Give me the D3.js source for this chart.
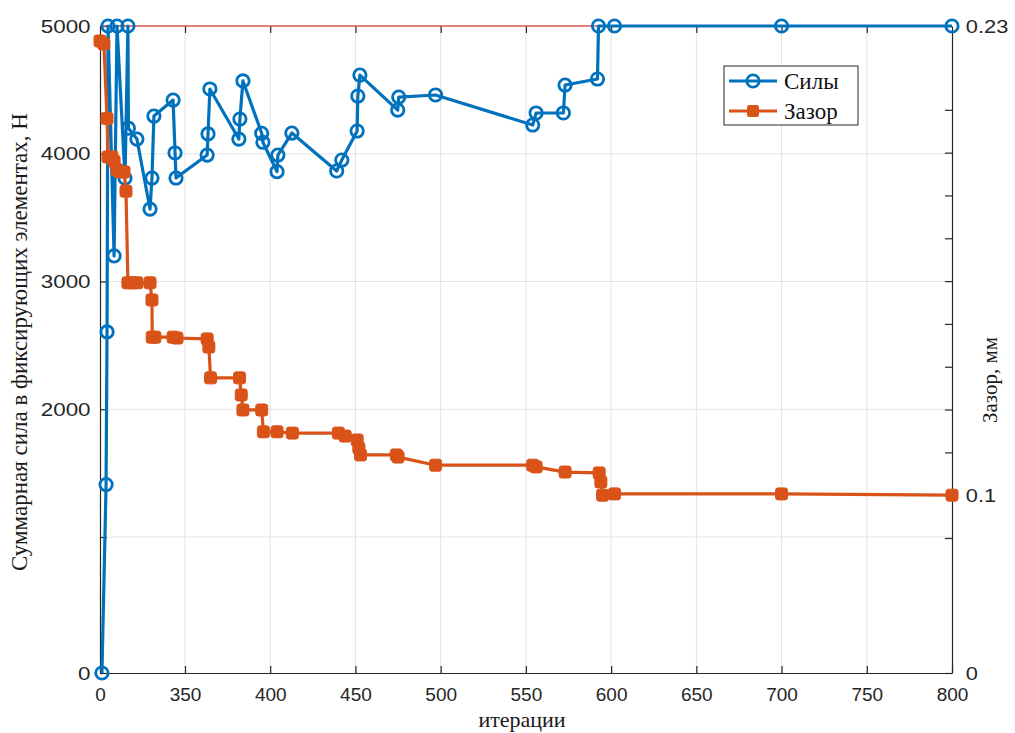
<!DOCTYPE html>
<html><head><meta charset="utf-8">
<script src="https://cdn.jsdelivr.net/npm/d3@7"></script>
<style>body{margin:0;background:#fff}</style>
</head><body>
<svg id="chart" width="1015" height="733"></svg>
<script>
// ---- data ----
const forceIter   = [8, 25, 29, 33, 58, 70, 103, 115, 117, 152, 206, 214, 222, 301, 309, 313, 363, 363.5, 364.6, 381.6, 382.2, 384, 395, 395.7, 404, 404.5, 412.7, 439, 442, 451, 451.4, 452.6, 474.8, 475.4, 497, 554, 556, 572, 573, 592, 592.6, 602, 700, 800];
const forceValues = [0, 1410, 2605, 5000, 3200, 5000, 3810, 5000, 4200, 4115, 3567, 3810, 4295, 4420, 4006, 3810, 3990, 4155, 4507, 4115, 4272, 4570, 4160, 4090, 3860, 3990, 4162, 3865, 3951, 4178, 4452, 4616, 4342, 4444, 4460, 4225, 4319, 4319, 4538, 4585, 5000, 5000, 5000, 5000];
const gapIter   = [0, 16, 29, 33, 49, 58, 70, 82, 99, 107, 115, 132, 152, 206, 214, 215, 226, 301, 317, 363, 364, 365, 382, 383, 384, 395, 396, 404, 413, 440, 444, 451, 452, 453, 474, 475, 497, 554, 556, 573, 593, 594, 595, 602, 700, 800];
const gapValues = [0.219, 0.217, 0.188, 0.179, 0.179, 0.178, 0.176, 0.1755, 0.1755, 0.171, 0.1496, 0.1496, 0.1496, 0.1496, 0.1456, 0.1369, 0.1369, 0.1369, 0.1367, 0.1365, 0.1346, 0.1274, 0.1274, 0.1234, 0.1199, 0.1199, 0.1148, 0.1148, 0.1145, 0.1145, 0.1138, 0.1129, 0.1110, 0.1094, 0.1094, 0.1089, 0.1070, 0.1070, 0.1066, 0.1054, 0.1052, 0.1031, 0.1000, 0.1003, 0.1003, 0.1000];
const limitIter   = [0, 800];
const limitValues = [5000, 5000];

const xTickValues = [0, 350, 400, 450, 500, 550, 600, 650, 700, 750, 800];
const xTickLabels = ["0", "350", "400", "450", "500", "550", "600", "650", "700", "750", "800"];
const yTickValues = [0, 1000, 2000, 3000, 4000, 5000];
const yTickLabels = ["0", "", "2000", "3000", "4000", "5000"];
const y2TickValues = [0, 0.09, 0.1, 0.11, 0.12, 0.13, 0.14, 0.15, 0.16, 0.17, 0.18, 0.19, 0.23];
const y2TickLabels = ["0", "", "0.1", "", "", "", "", "", "", "", "", "", "0.23"];
const seriesNames = ["Силы", "Зазор"];
const xTitle = "итерации";
const yTitle = "Суммарная сила в фиксирующих элементах, Н";
const y2Title = "Зазор, мм";

// ---- layout ----
const L = 100, R = 952, T = 26, B = 673;
const BLUE = "#0072BD", ORANGE = "#D95319", AX = "#262626";
const svg = d3.select("#chart");

const x = d3.scaleLinear().domain([0, 350, 800]).range([L, 185, R]);
const y = d3.scaleLinear().domain([0, 1000, 5000]).range([B, 537, T]);
const y2 = d3.scaleLinear().domain([0, 0.09, 0.2, 0.23]).range([B, 538, 67, T]);

// grid
const grid = svg.append("g").attr("stroke", "#e3e3e3").attr("stroke-width", 1);
grid.selectAll("line.v").data(xTickValues.filter(d => d > 0 && d < 800)).join("line")
  .attr("x1", d => x(d)).attr("x2", d => x(d)).attr("y1", T).attr("y2", B);
grid.selectAll("line.h").data(yTickValues.filter(d => d > 0 && d < 5000)).join("line")
  .attr("y1", d => y(d)).attr("y2", d => y(d)).attr("x1", L).attr("x2", R);

const tickFont = "'Liberation Sans', Arial, Helvetica, sans-serif";
function styleAxis(g) {
  g.select(".domain").attr("stroke", AX).attr("stroke-width", 1.2);
  g.selectAll(".tick line").attr("stroke", AX).attr("stroke-width", 1.2);
  g.selectAll("text").attr("fill", AX).style("font-family", tickFont).style("font-size", "19px");
}

svg.append("g").attr("transform", `translate(0,${B})`)
  .call(d3.axisBottom(x).tickValues(xTickValues).tickFormat((d, i) => xTickLabels[i]).tickSizeInner(-7).tickSizeOuter(0).tickPadding(15))
  .call(styleAxis);
svg.append("g").attr("transform", `translate(0,${T})`)
  .call(d3.axisTop(x).tickValues(xTickValues.filter(d => d > 0 && d < 800)).tickFormat("").tickSizeInner(-7).tickSizeOuter(0))
  .call(styleAxis).call(g => g.select(".domain").remove());
svg.append("g").attr("transform", `translate(${L},0)`)
  .call(d3.axisLeft(y).tickValues(yTickValues).tickFormat((d, i) => yTickLabels[i]).tickSizeInner(-7).tickSizeOuter(0).tickPadding(8))
  .call(styleAxis)
  .call(g => g.selectAll("text").attr("transform", "scale(1.18,1)"));
svg.append("g").attr("transform", `translate(${R},0)`)
  .call(d3.axisRight(y2).tickValues(y2TickValues).tickFormat((d, i) => y2TickLabels[i]).tickSizeInner(-7).tickSizeOuter(0).tickPadding(12))
  .call(styleAxis)
  .call(g => g.selectAll("text").attr("transform", "scale(1.15,1)"));

// limit line (red)
svg.append("path")
  .attr("d", d3.line().x((d, i) => x(limitIter[i])).y(d => y(d))(limitValues))
  .attr("fill", "none").attr("stroke", "#d9534f").attr("stroke-width", 1.5);

// force series
const forcePts = forceIter.map((it, i) => [x(it), y(forceValues[i])]);
svg.append("path").attr("d", d3.line()(forcePts))
  .attr("fill", "none").attr("stroke", BLUE).attr("stroke-width", 3.2).attr("stroke-linejoin", "round");
svg.append("g").selectAll("circle").data(forcePts).join("circle")
  .attr("cx", d => d[0]).attr("cy", d => d[1]).attr("r", 6.2)
  .attr("fill", "none").attr("stroke", BLUE).attr("stroke-width", 2.8);

// gap series
const gapPts = gapIter.map((it, i) => [x(it), y2(gapValues[i])]);
svg.append("path").attr("d", d3.line()(gapPts))
  .attr("fill", "none").attr("stroke", ORANGE).attr("stroke-width", 3.2).attr("stroke-linejoin", "round");
svg.append("g").selectAll("rect").data(gapPts).join("rect")
  .attr("x", d => d[0] - 6).attr("y", d => d[1] - 6).attr("width", 12).attr("height", 12).attr("rx", 2.5)
  .attr("fill", ORANGE).attr("stroke", ORANGE).attr("stroke-width", 1);

// titles
const serif = "'Liberation Serif', 'Times New Roman', serif";
svg.append("text").attr("x", 522).attr("y", 727).attr("text-anchor", "middle")
  .style("font-family", serif).style("font-size", "22px").attr("fill", "#1a1a1a").text(xTitle);
svg.append("text").attr("transform", "translate(27,342) rotate(-90)").attr("text-anchor", "middle")
  .style("font-family", serif).style("font-size", "23px").attr("fill", "#1a1a1a").text(yTitle);
svg.append("text").attr("transform", "translate(997,380) rotate(-90)").attr("text-anchor", "middle")
  .style("font-family", serif).style("font-size", "21px").attr("fill", "#1a1a1a").text(y2Title);

// legend
const lg = svg.append("g").attr("transform", "translate(724,66)");
lg.append("rect").attr("width", 134).attr("height", 59).attr("fill", "#fff").attr("stroke", AX).attr("stroke-width", 1);
const legendColors = [BLUE, ORANGE];
seriesNames.forEach((name, i) => {
  const yy = 15 + i * 30;
  lg.append("line").attr("x1", 5).attr("x2", 53).attr("y1", yy).attr("y2", yy).attr("stroke", legendColors[i]).attr("stroke-width", 3.2);
  if (i === 0) lg.append("circle").attr("cx", 29).attr("cy", yy).attr("r", 6.2).attr("fill", "none").attr("stroke", BLUE).attr("stroke-width", 2.8);
  else lg.append("rect").attr("x", 23).attr("y", yy - 6).attr("width", 12).attr("height", 12).attr("rx", 2.5).attr("fill", ORANGE);
  lg.append("text").attr("x", 60).attr("y", yy).attr("dy", "0.35em")
    .style("font-family", serif).style("font-size", "23px").attr("fill", "#111").text(name);
});
</script>
</body></html>
